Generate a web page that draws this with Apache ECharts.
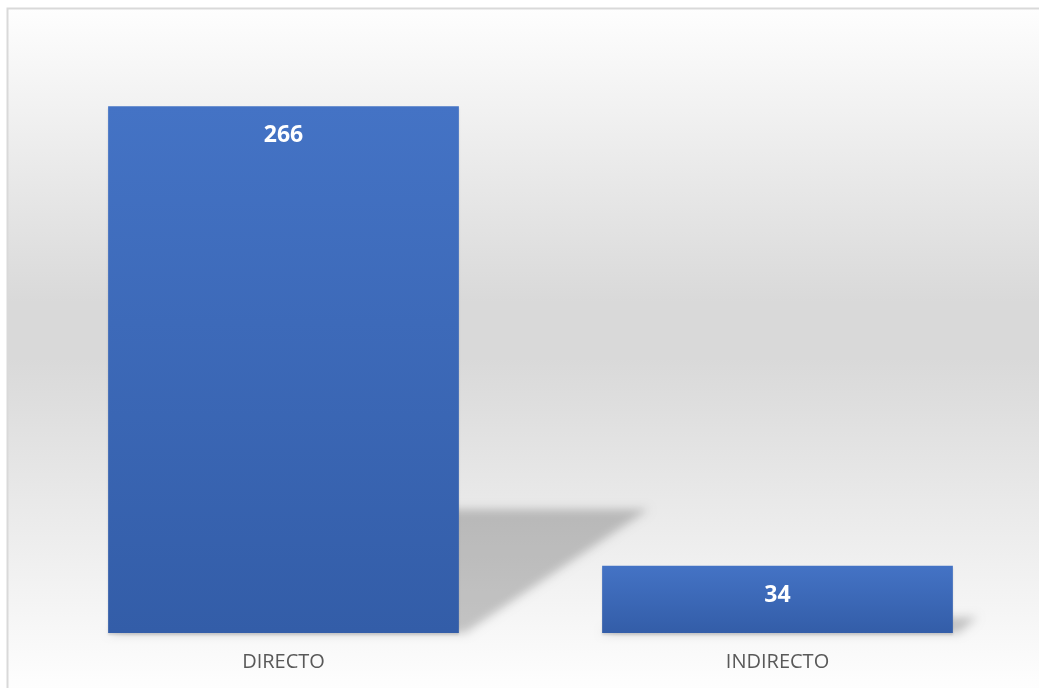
<!DOCTYPE html>
<html>
<head>
<meta charset="utf-8">
<script src="https://cdn.jsdelivr.net/npm/echarts@6/dist/echarts.min.js"></script>
<style>
  html, body { margin: 0; padding: 0; background: #fff; }
  #chart { width: 1039px; height: 688px; }
</style>
</head>
<body>
<div id="chart"></div>
<script>
// datos
const categories = ['DIRECTO', 'INDIRECTO'];
const values = [266, 34];

const chart = echarts.init(document.getElementById('chart'));

const barFill = new echarts.graphic.LinearGradient(0, 0, 0, 1, [
  { offset: 0, color: '#4473C5' },
  { offset: 1, color: '#335DA8' }
]);

// sombra en perspectiva detrás de cada barra
// (se dibuja fuera del lienzo y solo se ve su sombra desenfocada)
const OFF = 3000;
function renderShadow(params, api) {
  const idx = api.value(0);
  const base = api.coord([idx, 0]);
  const top = api.coord([idx, api.value(1)]);
  const half = api.size([1, 0])[0] * 0.355;
  const h = base[1] - top[1];
  const xL = base[0] - half, xR = base[0] + half, y0 = base[1];
  const dx = h * 0.36, dy = h * 0.235;
  return {
    type: 'polygon',
    shape: {
      points: [[xL - OFF, y0], [xR - OFF + 6, y0], [xR + dx - OFF, y0 - dy], [xL + dx - OFF, y0 - dy]]
    },
    style: {
      fill: '#000',
      shadowBlur: 10,
      shadowOffsetX: OFF,
      shadowColor: 'rgba(0,0,0,0.21)'
    }
  };
}

const option = {
  backgroundColor: '#ffffff',
  graphic: [
    {
      type: 'rect',
      z: -10,
      shape: { x: 7.5, y: 8.5, width: 1045, height: 700 },
      style: {
        fill: new echarts.graphic.LinearGradient(0, 0, 0, 1, [
          { offset: 0, color: '#fefefe' },
          { offset: 0.42, color: '#d9d9d9' },
          { offset: 0.5, color: '#d9d9d9' },
          { offset: 0.96, color: '#fdfdfd' },
          { offset: 1, color: '#fefefe' }
        ], false),
        stroke: '#d9d9d9',
        lineWidth: 2
      },
      silent: true
    }
  ],
  grid: { left: 36.5, right: 14.5, top: 39, bottom: 55 },
  xAxis: {
    type: 'category',
    data: categories,
    axisLine: { show: false },
    axisTick: { show: false },
    axisLabel: {
      color: '#595959',
      fontFamily: 'Open Sans',
      fontSize: 20,
      margin: 19
    }
  },
  yAxis: {
    type: 'value',
    min: 0,
    max: 300,
    show: false,
    splitLine: { show: false }
  },
  series: [
    {
      type: 'custom',
      renderItem: renderShadow,
      data: values.map((v, i) => [i, v]),
      clip: false,
      z: 1,
      silent: true
    },
    {
      type: 'bar',
      data: values,
      barWidth: '71%',
      z: 5,
      itemStyle: {
        color: barFill,
        shadowColor: 'rgba(0,0,0,0.12)',
        shadowBlur: 2,
        shadowOffsetY: 2
      },
      label: {
        show: true,
        position: 'insideTop',
        distance: 18,
        color: '#ffffff',
        fontFamily: 'Open Sans',
        fontWeight: 'bold',
        fontSize: 23
      }
    }
  ]
};

chart.setOption(option);
</script>
</body>
</html>
